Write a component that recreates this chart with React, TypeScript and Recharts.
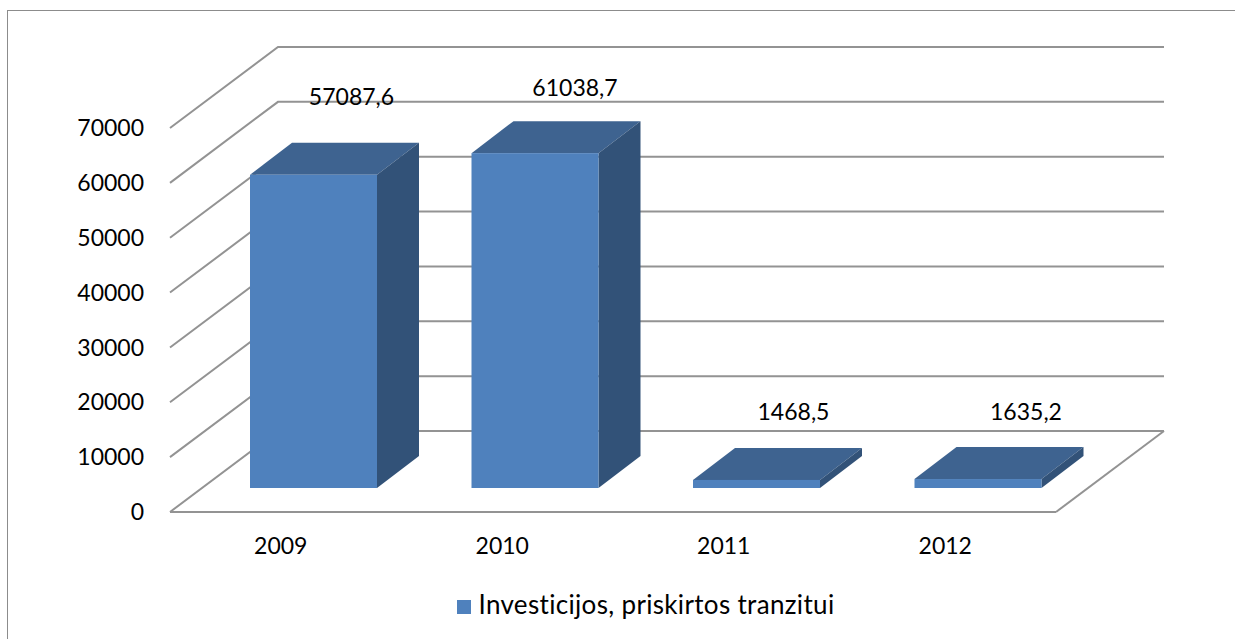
import { BarChart, Bar, XAxis, YAxis, Legend, LabelList, CartesianGrid } from 'recharts';

const years = ['2009', '2010', '2011', '2012'];
const investments = [57087.6, 61038.7, 1468.5, 1635.2];
const yTicks = [0, 10000, 20000, 30000, 40000, 50000, 60000, 70000];
const labelShiftX = [71, 73, 70, 81];
const labelShiftY = [-102, -89, -92, -91];

const seriesName = 'Investicijos, priskirtos tranzitui';
const font = 'Lato, sans-serif';

// depth of the floor and of the bars, the look of Excel's 3D column
const wallDx = 108;
const wallDy = -81;
const barShiftX = 33;
const barShiftY = -24;
const barDepthX = 42;
const barDepthY = -32;
const gridColor = '#939393';

const data = years.map((year, i) => ({ year, value: investments[i] }));

const WallLine = ({ x1, x2, y1, y, height }: any) => (
  <g>
    <polyline
      points={`${x1},${y1} ${x1 + wallDx},${y1 + wallDy} ${x2 + wallDx},${y1 + wallDy}`}
      fill="none"
      stroke={gridColor}
      strokeWidth={2}
    />
    {y1 >= y + height - 1 && (
      <line x1={x2} y1={y1} x2={x2 + wallDx} y2={y1 + wallDy} stroke={gridColor} strokeWidth={2} />
    )}
  </g>
);

const Column3D = ({ x, y, width, height }: any) => {
  const l = x + barShiftX;
  const r = l + width;
  const t = y + barShiftY;
  const b = t + height;
  const dx = barDepthX;
  const dy = barDepthY;
  return (
    <g>
      <polygon points={`${l},${t} ${l + dx},${t + dy} ${r + dx},${t + dy} ${r},${t}`} fill="#3e6390" />
      <polygon points={`${r},${t} ${r + dx},${t + dy} ${r + dx},${b + dy} ${r},${b}`} fill="#325278" />
      <rect x={l} y={t} width={width} height={height} fill="#4f81bd" />
    </g>
  );
};

const ValueLabel = ({ x, y, width, value, index }: any) => (
  <text
    x={x + width / 2 + labelShiftX[index]}
    y={y + labelShiftY[index] + 8}
    textAnchor="middle"
    fontFamily={font}
    fontSize={23}
    fill="#000"
  >
    {String(value).replace('.', ',')}
  </text>
);

export default function App() {
  return (
    <div style={{ position: 'absolute', left: 0, top: 0, width: 1235, height: 639, background: '#fff', overflow: 'hidden' }}>
      <div
        style={{
          position: 'absolute',
          left: 7,
          top: 10,
          width: 1240,
          height: 640,
          borderLeft: '1.5px solid #8c8c8c',
          borderTop: '1.5px solid #8c8c8c',
        }}
      />
      <BarChart
        width={1235}
        height={639}
        data={data}
        barSize={127}
        margin={{ top: 128, right: 179, left: 110, bottom: 65 }}
        style={{ position: 'absolute', left: 0, top: 0 }}
      >
        <CartesianGrid vertical={false} horizontal={<WallLine />} />
        <YAxis
          domain={[0, 70000]}
          ticks={yTicks}
          width={60}
          axisLine={false}
          tickLine={false}
          tickSize={0}
          tickMargin={26}
          interval={0}
          tick={{ fill: '#000', fontFamily: font, fontSize: 23 }}
        />
        <XAxis
          dataKey="year"
          height={30}
          tickLine={false}
          tickMargin={20}
          axisLine={{ stroke: gridColor, strokeWidth: 2 }}
          tick={{ fill: '#000', fontFamily: font, fontSize: 23 }}
        />
        <Legend
          iconType="square"
          iconSize={14}
          wrapperStyle={{ left: 178, bottom: 19, fontFamily: font, fontSize: 26, letterSpacing: 0.33, fontVariantLigatures: 'none' }}
          formatter={(v: string) => <span style={{ color: '#000', marginLeft: 3 }}>{v}</span>}
        />
        <Bar dataKey="value" name={seriesName} fill="#4f81bd" shape={<Column3D />} isAnimationActive={false}>
          <LabelList dataKey="value" content={<ValueLabel />} />
        </Bar>
      </BarChart>
    </div>
  );
}
